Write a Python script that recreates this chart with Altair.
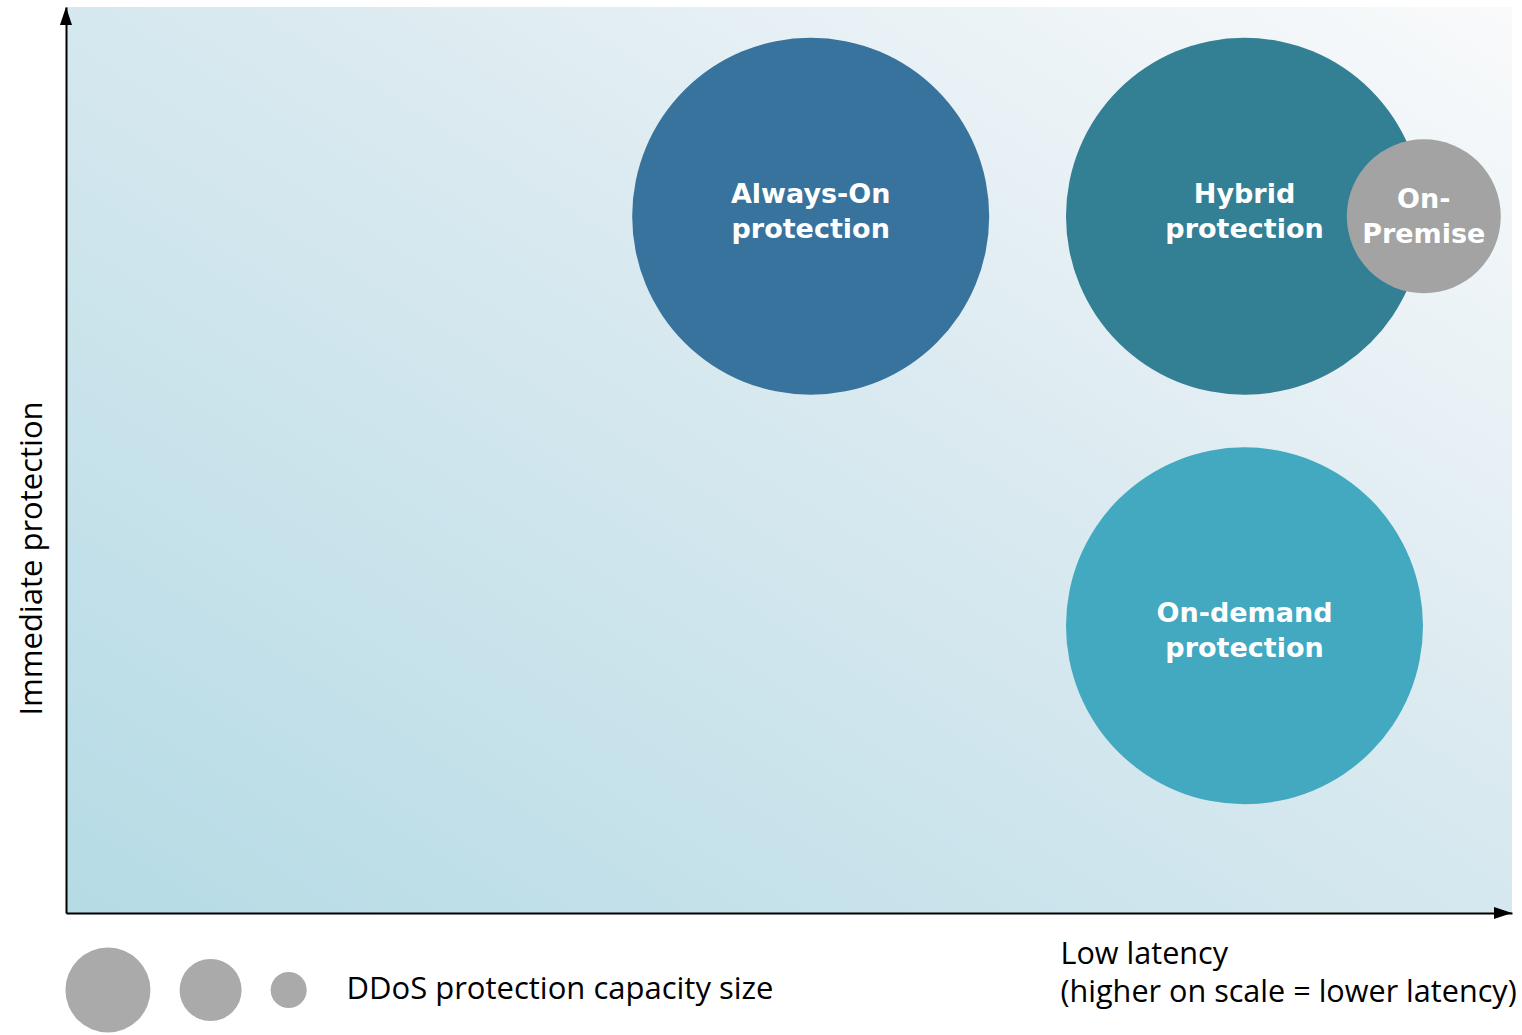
import altair as alt
import pandas as pd

# ---- data ----
names = ["Always-On protection", "Hybrid protection", "On-demand protection", "On-Premise"]
labels = ["Always-On\nprotection", "Hybrid\nprotection", "On-demand\nprotection", "On-\nPremise"]
latency = [51.5, 81.5, 81.5, 93.9]          # x: low latency (higher = lower latency)
immediacy = [76.9, 76.9, 31.7, 76.9]        # y: immediate protection
capacity = [100, 100, 100, 18.6]            # bubble size (relative capacity)
colors = ["#37739c", "#337f94", "#42a9c0", "#a3a3a3"]

legend_sizes = [5.67, 3.02, 1.02]
legend_x = [2.9, 10.0, 15.4]
legend_y = [-8.5, -8.5, -8.5]
legend_label = "DDoS protection capacity size"
legend_label_x = 19.4

x_title = ["Low latency", "(higher on scale = lower latency)"]
y_title = "Immediate protection"

W, H = 1446, 906
FONT = "Open Sans"
LABEL_FONT = "DejaVu Sans"
LABEL_DY = [-21, -21, -12, -16]

bubbles = pd.DataFrame({"name": names, "label": labels, "x": latency,
                        "y": immediacy, "cap": capacity})
legend_df = pd.DataFrame({"x": legend_x, "y": legend_y, "cap": legend_sizes})
legend_text_df = pd.DataFrame({"x": [legend_label_x], "y": [legend_y[0]], "t": [legend_label]})
bg_df = pd.DataFrame({"x": [0], "x2": [100], "y": [0], "y2": [100]})
arrow_x_df = pd.DataFrame({"x": [100], "y": [0]})
arrow_y_df = pd.DataFrame({"x": [0], "y": [100]})

xscale = alt.Scale(domain=[0, 100], nice=False, zero=False)
yscale = alt.Scale(domain=[0, 100], nice=False, zero=False)
# Vega symbol size = (diameter)^2 ; biggest bubble diameter ~357 px
size_scale = alt.Scale(type="linear", domain=[0, 100], range=[0, 127449])

xaxis = alt.Axis(title=x_title, labels=False, ticks=False, grid=False,
                 domainColor="black", domainWidth=2,
                 titleFont=FONT, titleFontSize=30.6, titleFontWeight="normal",
                 titleColor="black", titleAnchor="start", titleAlign="left",
                 titleX=994, titleY=50, titleBaseline="alphabetic",
                 titleLineHeight=38, zindex=2)
yaxis = alt.Axis(title=y_title, labels=False, ticks=False, grid=False,
                 domainColor="black", domainWidth=2,
                 titleFont=FONT, titleFontSize=31, titleFontWeight="normal",
                 titleColor="black", titleAngle=270, titleAlign="center",
                 titleBaseline="middle", titleX=-34, titleY=551, zindex=2)


def X(field="x"):
    return alt.X(f"{field}:Q", scale=xscale, axis=xaxis)


def Y(field="y"):
    return alt.Y(f"{field}:Q", scale=yscale, axis=yaxis)


gradient = alt.Gradient(
    gradient="linear",
    stops=[alt.GradientStop(color="#b5dbe5", offset=0),
           alt.GradientStop(color="#d9e9f0", offset=0.55),
           alt.GradientStop(color="#f9fafb", offset=1)],
    x1=0, y1=1, x2=1, y2=0)

background = alt.Chart(bg_df).mark_rect(color=gradient).encode(
    x=X("x"), x2="x2:Q", y=Y("y"), y2="y2:Q")

circles = alt.Chart(bubbles).mark_circle(opacity=1).encode(
    x=X(), y=Y(),
    size=alt.Size("cap:Q", scale=size_scale, legend=None),
    color=alt.Color("name:N", scale=alt.Scale(domain=names, range=colors), legend=None),
    order=alt.Order("cap:Q", sort="descending"))

label_layers = []
for nm, dy in zip(names, LABEL_DY):
    label_layers.append(
        alt.Chart(bubbles).transform_filter(alt.datum.name == nm).mark_text(
            font=LABEL_FONT, fontSize=27, fontWeight="bold", color="white",
            align="center", baseline="middle", lineBreak="\n", lineHeight=35, dy=dy
        ).encode(x=X(), y=Y(), text="label:N")
    )

legend_circles = alt.Chart(legend_df).mark_circle(opacity=1, color="#aaaaaa").encode(
    x=X(), y=Y(), size=alt.Size("cap:Q", scale=size_scale, legend=None))

legend_text = alt.Chart(legend_text_df).mark_text(
    font=FONT, fontSize=31, color="black", align="left", baseline="middle"
).encode(x=X(), y=Y(), text="t:N")

arrow_x = alt.Chart(arrow_x_df).mark_point(
    shape="M0,0 L-2,-0.667 L-2,0.667 Z", filled=True, size=324, color="black", opacity=1
).encode(x=X(), y=Y())

arrow_y = alt.Chart(arrow_y_df).mark_point(
    shape="M0,0 L-0.667,2 L0.667,2 Z", filled=True, size=324, color="black", opacity=1
).encode(x=X(), y=Y())

chart = alt.layer(background, circles, *label_layers, legend_circles,
                  legend_text, arrow_x, arrow_y).properties(
    width=W, height=H,
    padding={"left": 66, "top": 7, "right": 10, "bottom": 122},
    autosize=alt.AutoSizeParams(type="none"),
    background="white",
).configure_view(stroke=None)

chart.save("out.html", embed_options={"renderer": "svg", "actions": False})
